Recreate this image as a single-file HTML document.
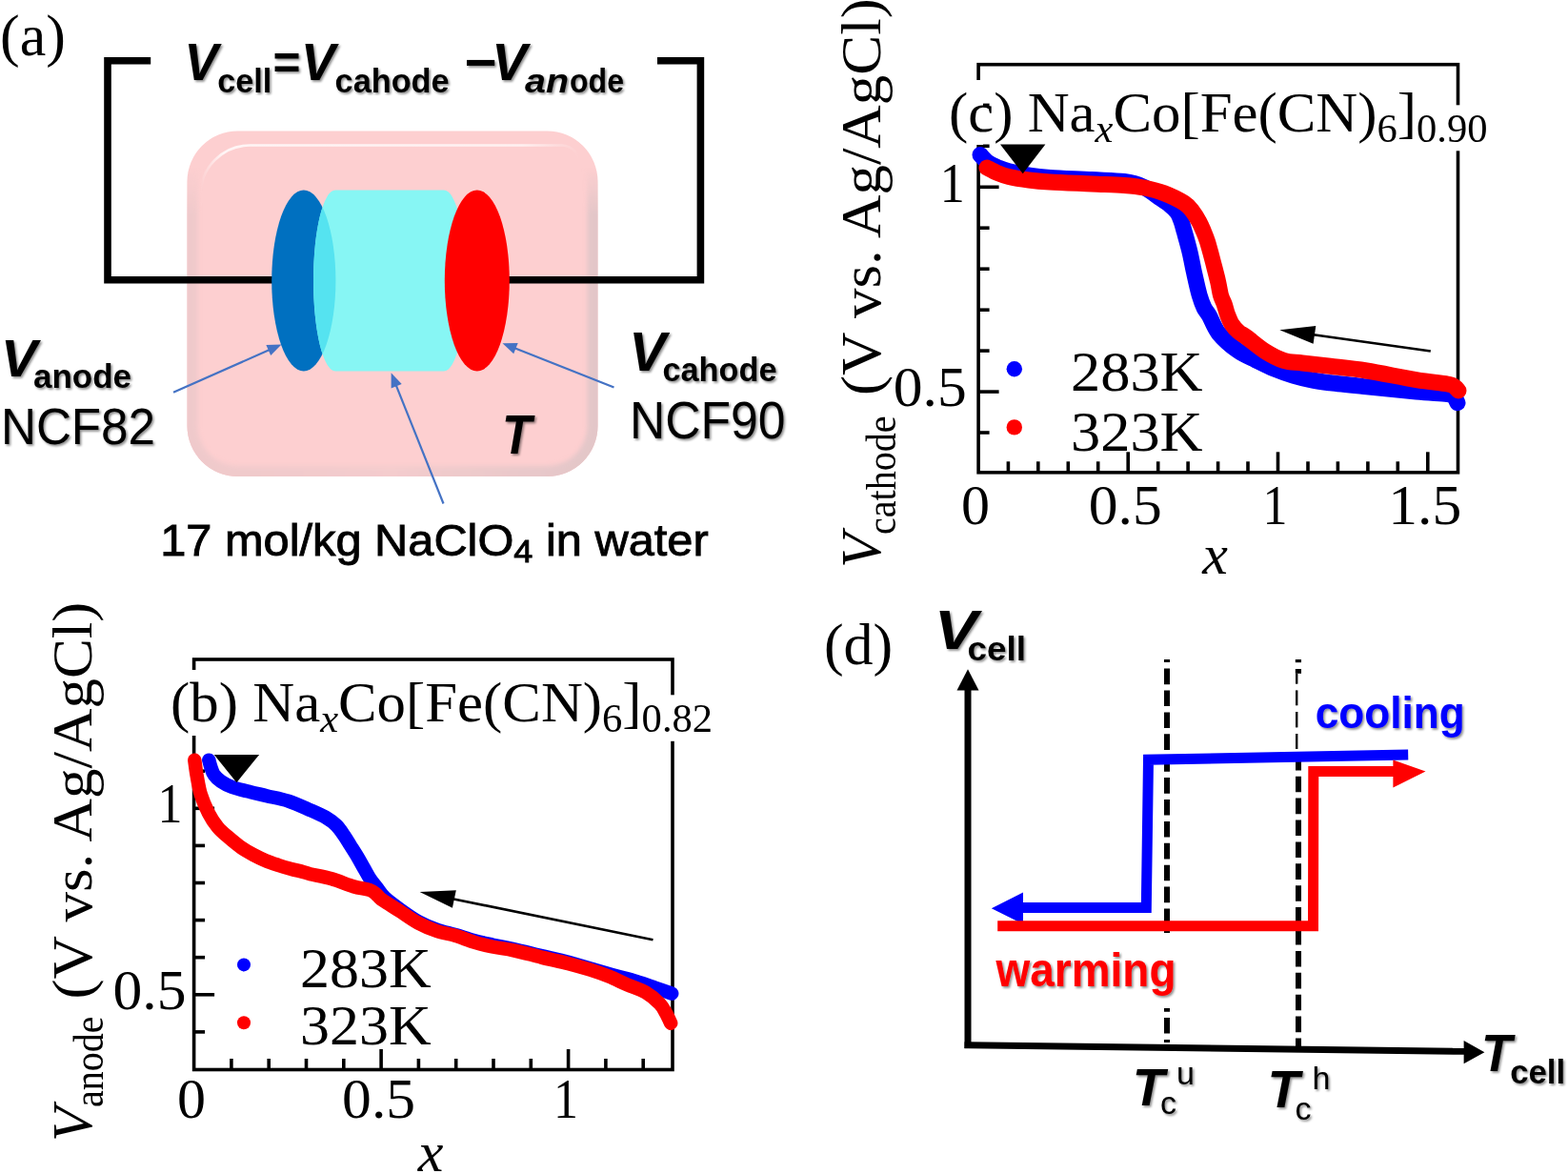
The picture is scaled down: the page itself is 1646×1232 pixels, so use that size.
<!DOCTYPE html><html><head><meta charset="utf-8"><title>Figure</title>
<style>html,body{margin:0;padding:0;background:#fff;}svg{display:block;}</style></head><body>
<svg width="1646" height="1232" viewBox="0 0 1646 1232">
<defs>
<filter id="sh" x="-10%" y="-10%" width="130%" height="140%">
<feDropShadow dx="1.6" dy="1.8" stdDeviation="1.0" flood-color="#000" flood-opacity="0.45"/>
</filter>
<linearGradient id="edgeR" x1="0" y1="0" x2="1" y2="0">
<stop offset="0" stop-color="#fdd0d1" stop-opacity="0"/><stop offset="1" stop-color="#e9c6c8" stop-opacity="1"/>
</linearGradient>
<linearGradient id="edgeB" x1="0" y1="0" x2="0" y2="1">
<stop offset="0" stop-color="#fdd0d1" stop-opacity="0"/><stop offset="1" stop-color="#eccacb" stop-opacity="1"/>
</linearGradient>
<marker id="ahb" viewBox="0 0 10 10" refX="9" refY="5" markerWidth="5" markerHeight="5" orient="auto-start-reverse" markerUnits="strokeWidth">
<path d="M0,0 L10,5 L0,10 z" fill="#4472c4"/></marker>
</defs>
<rect x="0" y="0" width="1646" height="1232" fill="#fff"/>
<text x="0.0" y="58.4" font-family="'Liberation Serif', 'Times New Roman', serif" font-size="62.0" font-weight="normal" font-style="normal" fill="#000" text-anchor="start" >(a)</text>
<defs><linearGradient id="ringH" x1="0" y1="0" x2="1" y2="0"><stop offset="0" stop-color="#efc9cb"/><stop offset="0.5" stop-color="#f4cccd"/><stop offset="1" stop-color="#e2c6c8"/></linearGradient><linearGradient id="ringV" x1="0" y1="0" x2="0" y2="1"><stop offset="0" stop-color="#fff" stop-opacity="0"/><stop offset="0.12" stop-color="#fff" stop-opacity="0"/><stop offset="0.25" stop-color="#fff" stop-opacity="1"/><stop offset="1" stop-color="#fff" stop-opacity="1"/></linearGradient><mask id="ringM" maskContentUnits="userSpaceOnUse"><rect x="190" y="130" width="445" height="380" fill="url(#ringV)"/></mask><clipPath id="boxClip"><path d="M249.5,137.5 H574.5 A53.0,53.0 0 0 1 627.5,190.5 V447.0 A53.0,53.0 0 0 1 574.5,500.0 H249.5 A53.0,53.0 0 0 1 196.5,447.0 V190.5 A53.0,53.0 0 0 1 249.5,137.5 Z"/></clipPath><filter id="bl2" x="-5%" y="-5%" width="110%" height="110%"><feGaussianBlur stdDeviation="2.2"/></filter><linearGradient id="hiG" x1="0" y1="0" x2="1" y2="0"><stop offset="0" stop-color="#fff" stop-opacity="0.0"/><stop offset="0.06" stop-color="#fff" stop-opacity="0.8"/><stop offset="0.85" stop-color="#fff" stop-opacity="0.7"/><stop offset="1" stop-color="#fff" stop-opacity="0"/></linearGradient></defs>
<path d="M249.5,137.5 H574.5 A53.0,53.0 0 0 1 627.5,190.5 V447.0 A53.0,53.0 0 0 1 574.5,500.0 H249.5 A53.0,53.0 0 0 1 196.5,447.0 V190.5 A53.0,53.0 0 0 1 249.5,137.5 Z" fill="#fdcfd0"/>
<g clip-path="url(#boxClip)"><g mask="url(#ringM)"><path d="M249.5,131.5 H574.5 A59.0,59.0 0 0 1 633.5,190.5 V447.0 A59.0,59.0 0 0 1 574.5,506.0 H249.5 A59.0,59.0 0 0 1 190.5,447.0 V190.5 A59.0,59.0 0 0 1 249.5,131.5 Z M249.5,148.5 H574.5 A42.0,42.0 0 0 1 616.5,190.5 V447.0 A42.0,42.0 0 0 1 574.5,489.0 H249.5 A42.0,42.0 0 0 1 207.5,447.0 V190.5 A42.0,42.0 0 0 1 249.5,148.5 Z" fill-rule="evenodd" fill="url(#ringH)" filter="url(#bl2)"/></g></g>
<path d="M210.5,215 V205 A52,52 0 0 1 262.5,152.5 H590 A20,20 0 0 1 608,166" fill="none" stroke="url(#hiG)" stroke-width="2.6"/>
<path d="M158.2,63.7 H113 V293.8 H290" fill="none" stroke="#000" stroke-width="7.6"/>
<path d="M690,63.7 H735.4 V293.8 H530" fill="none" stroke="#000" stroke-width="7.6"/>
<ellipse cx="318.8" cy="294.5" rx="33.6" ry="95" fill="#0070c0"/>
<defs><clipPath id="cylClip"><path d="M352,199.5 H466 A23,95 0 0 1 466,389.5 H352 A23,95 0 0 1 352,199.5 Z"/></clipPath></defs>
<path d="M352,199.5 H466 A23,95 0 0 1 466,389.5 H352 A23,95 0 0 1 352,199.5 Z" fill="#87f6f4"/>
<ellipse cx="318.8" cy="294.5" rx="33.6" ry="95" fill="#55e3f0" clip-path="url(#cylClip)"/>
<ellipse cx="500.8" cy="294.5" rx="34" ry="95" fill="#ff0000"/>
<line x1="182.0" y1="411.8" x2="283.6" y2="366.8" stroke="#4472c4" stroke-width="2.2"/>
<path d="M295.5,361.5 L284.2,373.1 L279.4,362.1 Z" fill="#4472c4"/>
<line x1="465.5" y1="528.5" x2="415.4" y2="403.3" stroke="#4472c4" stroke-width="2.2"/>
<path d="M410.6,391.2 L421.7,402.9 L410.6,407.4 Z" fill="#4472c4"/>
<line x1="644.5" y1="406.5" x2="539.6" y2="365.0" stroke="#4472c4" stroke-width="2.2"/>
<path d="M527.5,360.2 L543.7,360.1 L539.2,371.3 Z" fill="#4472c4"/>
<g filter="url(#sh)">
<text x="193.5" y="84.3" font-family="'Liberation Sans', Arial, sans-serif" font-size="55.0" font-weight="bold" font-style="italic" fill="#000" text-anchor="start" textLength="35.5" lengthAdjust="spacingAndGlyphs" >V</text>
<text x="228.3" y="96.7" font-family="'Liberation Sans', Arial, sans-serif" font-size="34.5" font-weight="bold" font-style="normal" fill="#000" text-anchor="start" textLength="57.0" lengthAdjust="spacingAndGlyphs" >cell</text>
<text x="286.5" y="83.2" font-family="'Liberation Sans', Arial, sans-serif" font-size="50.0" font-weight="bold" font-style="normal" fill="#000" text-anchor="start" textLength="29.0" lengthAdjust="spacingAndGlyphs" >=</text>
<text x="316.0" y="84.3" font-family="'Liberation Sans', Arial, sans-serif" font-size="55.0" font-weight="bold" font-style="italic" fill="#000" text-anchor="start" textLength="36.0" lengthAdjust="spacingAndGlyphs" >V</text>
<text x="351.6" y="96.7" font-family="'Liberation Sans', Arial, sans-serif" font-size="34.5" font-weight="bold" font-style="normal" fill="#000" text-anchor="start" textLength="120.0" lengthAdjust="spacingAndGlyphs" >cahode</text>
<text x="487.5" y="84.3" font-family="'Liberation Sans', Arial, sans-serif" font-size="55.0" font-weight="bold" font-style="normal" fill="#000" text-anchor="start" textLength="34.0" lengthAdjust="spacingAndGlyphs" >−</text>
<text x="516.2" y="84.3" font-family="'Liberation Sans', Arial, sans-serif" font-size="55.0" font-weight="bold" font-style="italic" fill="#000" text-anchor="start" textLength="37.0" lengthAdjust="spacingAndGlyphs" >V</text>
<text x="551.0" y="96.7" font-family="'Liberation Sans', Arial, sans-serif" font-size="34.5" font-weight="bold" font-style="italic" fill="#000" text-anchor="start" textLength="46.0" lengthAdjust="spacingAndGlyphs" >an</text>
<text x="598.0" y="96.7" font-family="'Liberation Sans', Arial, sans-serif" font-size="34.5" font-weight="bold" font-style="normal" fill="#000" text-anchor="start" textLength="57.0" lengthAdjust="spacingAndGlyphs" >ode</text>
<text x="1.0" y="394.7" font-family="'Liberation Sans', Arial, sans-serif" font-size="56.0" font-weight="bold" font-style="italic" fill="#000" text-anchor="start" textLength="38.0" lengthAdjust="spacingAndGlyphs" >V</text>
<text x="35.0" y="407.1" font-family="'Liberation Sans', Arial, sans-serif" font-size="34.5" font-weight="bold" font-style="normal" fill="#000" text-anchor="start" textLength="103.0" lengthAdjust="spacingAndGlyphs" >anode</text>
<text x="1.0" y="465.8" font-family="'Liberation Sans', Arial, sans-serif" font-size="54.5" font-weight="normal" font-style="normal" fill="#000" text-anchor="start" textLength="162.0" lengthAdjust="spacingAndGlyphs" >NCF82</text>
<text x="660.3" y="389.2" font-family="'Liberation Sans', Arial, sans-serif" font-size="57.0" font-weight="bold" font-style="italic" fill="#000" text-anchor="start" textLength="39.0" lengthAdjust="spacingAndGlyphs" >V</text>
<text x="695.5" y="399.5" font-family="'Liberation Sans', Arial, sans-serif" font-size="34.5" font-weight="bold" font-style="normal" fill="#000" text-anchor="start" textLength="120.0" lengthAdjust="spacingAndGlyphs" >cahode</text>
<text x="661.0" y="460.3" font-family="'Liberation Sans', Arial, sans-serif" font-size="55.0" font-weight="normal" font-style="normal" fill="#000" text-anchor="start" textLength="163.5" lengthAdjust="spacingAndGlyphs" >NCF90</text>
<text x="527.0" y="475.6" font-family="'Liberation Sans', Arial, sans-serif" font-size="56.5" font-weight="bold" font-style="italic" fill="#000" text-anchor="start" textLength="31.0" lengthAdjust="spacingAndGlyphs" >T</text>
</g>
<text x="168.2" y="583.4" font-family="'Liberation Sans', 'Noto Sans CJK JP', sans-serif" font-size="46" fill="#000" stroke="#000" stroke-width="0.9" textLength="575.5" lengthAdjust="spacingAndGlyphs">17 mol/kg NaClO<tspan font-size="34" dy="7">4</tspan><tspan dy="-7"> in water</tspan></text>
<rect x="1027.1" y="67.7" width="503.4" height="428.1" fill="none" stroke="#000" stroke-width="3.6"/>
<line x1="1058.4" y1="495.8" x2="1058.4" y2="484.3" stroke="#000" stroke-width="3.6"/>
<line x1="1089.8" y1="495.8" x2="1089.8" y2="484.3" stroke="#000" stroke-width="3.6"/>
<line x1="1121.3" y1="495.8" x2="1121.3" y2="484.3" stroke="#000" stroke-width="3.6"/>
<line x1="1152.7" y1="495.8" x2="1152.7" y2="484.3" stroke="#000" stroke-width="3.6"/>
<line x1="1184.2" y1="495.8" x2="1184.2" y2="474.3" stroke="#000" stroke-width="3.6"/>
<line x1="1215.7" y1="495.8" x2="1215.7" y2="484.3" stroke="#000" stroke-width="3.6"/>
<line x1="1247.1" y1="495.8" x2="1247.1" y2="484.3" stroke="#000" stroke-width="3.6"/>
<line x1="1278.6" y1="495.8" x2="1278.6" y2="484.3" stroke="#000" stroke-width="3.6"/>
<line x1="1310.0" y1="495.8" x2="1310.0" y2="484.3" stroke="#000" stroke-width="3.6"/>
<line x1="1341.5" y1="495.8" x2="1341.5" y2="474.3" stroke="#000" stroke-width="3.6"/>
<line x1="1373.0" y1="495.8" x2="1373.0" y2="484.3" stroke="#000" stroke-width="3.6"/>
<line x1="1404.4" y1="495.8" x2="1404.4" y2="484.3" stroke="#000" stroke-width="3.6"/>
<line x1="1435.9" y1="495.8" x2="1435.9" y2="484.3" stroke="#000" stroke-width="3.6"/>
<line x1="1467.3" y1="495.8" x2="1467.3" y2="484.3" stroke="#000" stroke-width="3.6"/>
<line x1="1498.8" y1="495.8" x2="1498.8" y2="474.3" stroke="#000" stroke-width="3.6"/>
<line x1="1027.1" y1="454.0" x2="1038.6" y2="454.0" stroke="#000" stroke-width="3.6"/>
<line x1="1027.1" y1="411.1" x2="1048.6" y2="411.1" stroke="#000" stroke-width="3.6"/>
<line x1="1027.1" y1="368.1" x2="1038.6" y2="368.1" stroke="#000" stroke-width="3.6"/>
<line x1="1027.1" y1="325.2" x2="1038.6" y2="325.2" stroke="#000" stroke-width="3.6"/>
<line x1="1027.1" y1="282.2" x2="1038.6" y2="282.2" stroke="#000" stroke-width="3.6"/>
<line x1="1027.1" y1="239.2" x2="1038.6" y2="239.2" stroke="#000" stroke-width="3.6"/>
<line x1="1027.1" y1="196.3" x2="1048.6" y2="196.3" stroke="#000" stroke-width="3.6"/>
<line x1="1027.1" y1="153.3" x2="1038.6" y2="153.3" stroke="#000" stroke-width="3.6"/>
<line x1="1027.1" y1="110.4" x2="1038.6" y2="110.4" stroke="#000" stroke-width="3.6"/>
<path d="M1029.0,162.4 C1030.3,163.8 1033.8,168.2 1037.0,170.5 C1040.2,172.8 1044.3,174.4 1048.0,176.0 C1051.7,177.6 1053.5,178.4 1059.0,179.8 C1064.5,181.2 1073.8,183.1 1081.0,184.2 C1088.2,185.3 1091.7,185.7 1102.5,186.4 C1113.3,187.1 1133.1,187.9 1146.0,188.6 C1158.9,189.3 1171.0,189.3 1180.0,190.5 C1189.0,191.7 1194.2,193.4 1200.0,196.0 C1205.8,198.6 1210.3,202.8 1215.0,206.0 C1219.7,209.2 1224.5,212.2 1228.0,215.0 C1231.5,217.8 1234.0,220.2 1236.0,223.0 C1238.0,225.8 1238.8,228.6 1240.0,232.0 C1241.2,235.4 1241.8,237.9 1243.3,243.3 C1244.8,248.7 1247.3,257.4 1249.0,264.4 C1250.7,271.4 1251.7,277.9 1253.4,285.5 C1255.1,293.1 1257.4,303.8 1259.2,310.0 C1261.0,316.2 1262.3,319.5 1264.0,323.0 C1265.7,326.5 1266.7,326.5 1269.3,331.0 C1271.9,335.5 1274.5,343.9 1279.5,350.0 C1284.5,356.1 1292.5,363.0 1299.0,367.7 C1305.5,372.4 1312.0,374.8 1318.5,378.0 C1325.0,381.2 1331.5,384.5 1338.0,387.2 C1344.5,389.9 1350.9,392.1 1357.4,394.0 C1363.9,395.9 1370.5,397.6 1377.0,398.9 C1383.5,400.2 1386.8,400.6 1396.4,401.8 C1406.0,403.0 1419.5,404.3 1434.5,405.8 C1449.5,407.3 1472.5,409.7 1486.7,411.0 C1500.9,412.3 1512.9,412.7 1519.4,413.5 C1526.0,414.3 1524.2,414.5 1526.0,416.0 C1527.8,417.5 1529.3,421.6 1530.0,422.7" fill="none" stroke="#0000ff" stroke-width="17.0" stroke-linejoin="round" stroke-linecap="round"/>
<circle cx="1028.8" cy="162.4" r="7.8" fill="#0000ff"/>
<circle cx="1530.0" cy="422.2" r="7.0" fill="#0000ff"/>
<path d="M1036.0,176.0 C1037.8,176.9 1043.2,179.9 1047.0,181.5 C1050.8,183.1 1053.5,184.2 1059.0,185.5 C1064.5,186.8 1072.8,188.1 1080.0,189.0 C1087.2,189.9 1091.0,190.3 1102.0,191.0 C1113.0,191.7 1133.0,192.4 1146.0,193.0 C1159.0,193.6 1170.8,193.8 1180.0,194.5 C1189.2,195.2 1194.0,195.6 1201.0,197.0 C1208.0,198.4 1215.0,200.0 1222.0,202.7 C1229.0,205.4 1238.0,209.8 1243.0,213.0 C1248.0,216.2 1249.4,218.7 1252.0,222.0 C1254.6,225.3 1256.9,229.3 1258.8,232.8 C1260.7,236.3 1262.0,239.5 1263.5,243.0 C1265.0,246.5 1265.9,248.6 1267.6,253.9 C1269.2,259.2 1271.6,268.0 1273.4,275.0 C1275.2,282.0 1277.4,290.2 1278.7,296.0 C1280.0,301.8 1280.4,306.1 1281.5,310.0 C1282.6,313.9 1284.1,316.2 1285.3,319.5 C1286.5,322.8 1287.2,326.6 1288.5,330.0 C1289.8,333.4 1291.1,337.0 1293.0,340.0 C1294.9,343.0 1297.4,345.7 1300.0,348.0 C1302.6,350.3 1304.0,350.6 1308.7,354.0 C1313.4,357.4 1321.7,364.6 1328.2,368.7 C1334.7,372.8 1341.2,376.3 1347.7,378.4 C1354.2,380.4 1359.1,380.0 1367.2,381.0 C1375.3,382.0 1385.2,383.0 1396.4,384.3 C1407.6,385.6 1419.5,386.6 1434.5,389.0 C1449.5,391.4 1472.5,396.3 1486.7,398.6 C1500.9,400.9 1512.7,401.8 1519.4,403.0 C1526.1,404.2 1525.1,404.8 1527.0,406.0 C1528.9,407.2 1530.3,409.3 1531.0,410.0" fill="none" stroke="#ff0000" stroke-width="17.0" stroke-linejoin="round" stroke-linecap="round"/>
<rect x="995.0" y="84.0" width="25.0" height="68.0" fill="#fff"/>
<rect x="1020.0" y="84.0" width="12.0" height="68.0" fill="#fff"/>
<rect x="1520.0" y="110.3" width="20.0" height="48.0" fill="#fff"/>
<text x="1023.9" y="549.5" font-family="'Liberation Serif', 'Times New Roman', serif" font-size="60.0" font-weight="normal" font-style="normal" fill="#000" text-anchor="middle" >0</text>
<text x="1181.2" y="549.5" font-family="'Liberation Serif', 'Times New Roman', serif" font-size="60.0" font-weight="normal" font-style="normal" fill="#000" text-anchor="middle" textLength="77.0" lengthAdjust="spacingAndGlyphs" >0.5</text>
<text x="1338.5" y="549.5" font-family="'Liberation Serif', 'Times New Roman', serif" font-size="60.0" font-weight="normal" font-style="normal" fill="#000" text-anchor="middle" textLength="26.0" lengthAdjust="spacingAndGlyphs" >1</text>
<text x="1495.8" y="549.5" font-family="'Liberation Serif', 'Times New Roman', serif" font-size="60.0" font-weight="normal" font-style="normal" fill="#000" text-anchor="middle" textLength="77.0" lengthAdjust="spacingAndGlyphs" >1.5</text>
<text x="1012.8" y="211.7" font-family="'Liberation Serif', 'Times New Roman', serif" font-size="60.0" font-weight="normal" font-style="normal" fill="#000" text-anchor="end" textLength="26.0" lengthAdjust="spacingAndGlyphs" >1</text>
<text x="1014.8" y="426.4" font-family="'Liberation Serif', 'Times New Roman', serif" font-size="60.0" font-weight="normal" font-style="normal" fill="#000" text-anchor="end" textLength="77.0" lengthAdjust="spacingAndGlyphs" >0.5</text>
<text x="996.0" y="137.5" font-family="'Liberation Serif', 'Times New Roman', serif" font-size="60" textLength="565.5" lengthAdjust="spacingAndGlyphs">(c) Na<tspan font-size="42" font-style="italic" dy="11">x</tspan><tspan dy="-11">Co[Fe(CN)</tspan><tspan font-size="42" dy="11">6</tspan><tspan dy="-11">]</tspan><tspan font-size="42" dy="11">0.90</tspan></text>
<path d="M1050.0,151.5 L1097.4,151.5 L1073.7,182.3 Z" fill="#000"/>
<line x1="1501.8" y1="368.5" x2="1377.0" y2="351.0" stroke="#000" stroke-width="2.6"/>
<path d="M1343.3,346.3 L1381.3,342.0 L1378.6,360.8 Z" fill="#000"/>
<circle cx="1064.8" cy="387.2" r="8.2" fill="#0000ff"/>
<text x="1124.0" y="409.8" font-family="'Liberation Serif', 'Times New Roman', serif" font-size="60.0" font-weight="normal" font-style="normal" fill="#000" text-anchor="start" textLength="138.7" lengthAdjust="spacingAndGlyphs" >283K</text>
<circle cx="1064.8" cy="448.4" r="8.2" fill="#ff0000"/>
<text x="1124.0" y="472.5" font-family="'Liberation Serif', 'Times New Roman', serif" font-size="60.0" font-weight="normal" font-style="normal" fill="#000" text-anchor="start" textLength="138.7" lengthAdjust="spacingAndGlyphs" >323K</text>
<text x="1275.5" y="601.5" font-family="'Liberation Serif', 'Times New Roman', serif" font-size="60.0" font-weight="normal" font-style="italic" fill="#000" text-anchor="middle" >x</text>
<text transform="translate(923.8,596.0) rotate(-90)" x="0" y="0" font-family="'Liberation Serif', 'Times New Roman', serif" font-size="60" font-style="italic">V</text><text transform="translate(939.8,561.0) rotate(-90)" x="0" y="0" font-family="'Liberation Serif', 'Times New Roman', serif" font-size="45" textLength="124.6" lengthAdjust="spacingAndGlyphs">cathode</text><text transform="translate(923.8,415.0) rotate(-90)" x="0" y="0" font-family="'Liberation Serif', 'Times New Roman', serif" font-size="60" textLength="416.7" lengthAdjust="spacingAndGlyphs">(V vs. Ag/AgCl)</text>
<rect x="203.6" y="692.0" width="502.4" height="430.5" fill="none" stroke="#000" stroke-width="3.6"/>
<line x1="242.9" y1="1122.5" x2="242.9" y2="1111.0" stroke="#000" stroke-width="3.6"/>
<line x1="282.2" y1="1122.5" x2="282.2" y2="1111.0" stroke="#000" stroke-width="3.6"/>
<line x1="321.5" y1="1122.5" x2="321.5" y2="1111.0" stroke="#000" stroke-width="3.6"/>
<line x1="360.8" y1="1122.5" x2="360.8" y2="1111.0" stroke="#000" stroke-width="3.6"/>
<line x1="400.1" y1="1122.5" x2="400.1" y2="1101.0" stroke="#000" stroke-width="3.6"/>
<line x1="439.4" y1="1122.5" x2="439.4" y2="1111.0" stroke="#000" stroke-width="3.6"/>
<line x1="478.7" y1="1122.5" x2="478.7" y2="1111.0" stroke="#000" stroke-width="3.6"/>
<line x1="518.0" y1="1122.5" x2="518.0" y2="1111.0" stroke="#000" stroke-width="3.6"/>
<line x1="557.3" y1="1122.5" x2="557.3" y2="1111.0" stroke="#000" stroke-width="3.6"/>
<line x1="596.6" y1="1122.5" x2="596.6" y2="1101.0" stroke="#000" stroke-width="3.6"/>
<line x1="635.9" y1="1122.5" x2="635.9" y2="1111.0" stroke="#000" stroke-width="3.6"/>
<line x1="675.2" y1="1122.5" x2="675.2" y2="1111.0" stroke="#000" stroke-width="3.6"/>
<line x1="203.6" y1="1082.9" x2="215.1" y2="1082.9" stroke="#000" stroke-width="3.6"/>
<line x1="203.6" y1="1043.8" x2="225.1" y2="1043.8" stroke="#000" stroke-width="3.6"/>
<line x1="203.6" y1="1004.7" x2="215.1" y2="1004.7" stroke="#000" stroke-width="3.6"/>
<line x1="203.6" y1="965.6" x2="215.1" y2="965.6" stroke="#000" stroke-width="3.6"/>
<line x1="203.6" y1="926.5" x2="215.1" y2="926.5" stroke="#000" stroke-width="3.6"/>
<line x1="203.6" y1="887.4" x2="215.1" y2="887.4" stroke="#000" stroke-width="3.6"/>
<line x1="203.6" y1="848.3" x2="225.1" y2="848.3" stroke="#000" stroke-width="3.6"/>
<line x1="203.6" y1="809.2" x2="215.1" y2="809.2" stroke="#000" stroke-width="3.6"/>
<line x1="203.6" y1="770.1" x2="215.1" y2="770.1" stroke="#000" stroke-width="3.6"/>
<line x1="203.6" y1="731.0" x2="215.1" y2="731.0" stroke="#000" stroke-width="3.6"/>
<path d="M219.3,797.7 C219.7,799.0 220.6,803.0 221.5,805.5 C222.4,808.0 222.9,810.6 224.7,813.0 C226.4,815.4 228.8,817.8 232.0,820.0 C235.2,822.2 238.5,824.1 243.7,826.0 C248.9,827.9 257.1,829.7 263.2,831.2 C269.2,832.7 273.4,833.6 280.0,835.2 C286.6,836.8 295.1,838.1 302.7,840.6 C310.3,843.1 318.9,847.2 325.5,850.1 C332.1,853.0 337.9,855.5 342.5,858.1 C347.1,860.8 349.9,862.9 353.0,866.0 C356.1,869.1 358.8,873.2 361.3,876.8 C363.8,880.4 365.6,883.7 368.0,887.5 C370.4,891.3 373.2,895.6 375.5,899.5 C377.8,903.4 379.8,907.2 382.0,911.0 C384.2,914.8 386.2,918.8 388.5,922.3 C390.8,925.8 393.4,928.7 396.0,932.0 C398.6,935.3 400.1,938.3 404.0,942.0 C407.9,945.7 413.7,949.8 419.5,954.0 C425.3,958.2 432.5,963.4 439.0,967.0 C445.5,970.6 451.9,973.2 458.4,975.5 C464.9,977.8 471.4,979.1 477.9,981.0 C484.4,982.9 490.9,985.2 497.4,987.0 C503.9,988.8 509.8,990.0 516.8,991.5 C523.8,993.0 530.6,994.1 539.2,996.0 C547.8,997.9 558.7,1000.7 568.4,1003.0 C578.1,1005.3 587.9,1007.4 597.6,1010.0 C607.3,1012.6 618.4,1016.1 626.8,1018.5 C635.2,1020.9 641.1,1022.6 648.0,1024.5 C654.9,1026.4 661.4,1028.0 668.0,1030.0 C674.6,1032.0 681.4,1034.4 687.6,1036.5 C693.8,1038.6 702.3,1041.6 705.2,1042.6" fill="none" stroke="#0000ff" stroke-width="14.5" stroke-linejoin="round" stroke-linecap="round"/>
<path d="M204.3,797.7 C204.7,800.5 205.6,808.2 206.7,814.2 C207.8,820.2 208.8,827.2 210.8,833.7 C212.8,840.2 216.0,847.5 218.9,853.2 C221.8,858.9 225.0,863.7 228.5,868.0 C232.0,872.3 235.9,875.3 240.0,878.8 C244.1,882.3 248.7,886.2 253.0,889.2 C257.3,892.2 261.7,894.7 266.0,897.0 C270.3,899.3 274.7,901.4 279.0,903.2 C283.3,905.0 287.7,906.4 292.0,907.8 C296.3,909.2 300.7,910.5 305.0,911.7 C309.3,912.9 314.6,914.0 318.0,914.9 C321.4,915.8 320.5,916.0 325.5,917.2 C330.5,918.4 340.6,920.1 348.2,922.3 C355.8,924.5 364.3,928.2 370.9,930.2 C377.5,932.2 384.0,932.6 388.0,934.0 C392.0,935.4 393.0,936.9 395.0,938.5 C397.0,940.1 397.5,941.6 400.0,943.5 C402.5,945.4 406.8,947.9 410.0,950.0 C413.2,952.1 414.7,952.9 419.5,956.0 C424.3,959.1 432.5,965.2 439.0,968.7 C445.5,972.2 451.9,974.8 458.4,977.0 C464.9,979.2 471.4,979.9 477.9,981.8 C484.4,983.7 490.9,986.6 497.4,988.6 C503.9,990.6 509.8,992.0 516.8,993.5 C523.8,995.0 530.6,995.4 539.2,997.3 C547.8,999.1 558.7,1002.2 568.4,1004.6 C578.1,1007.0 589.1,1009.2 597.6,1011.4 C606.1,1013.6 612.6,1015.5 619.5,1017.7 C626.4,1019.9 632.5,1022.0 639.0,1024.6 C645.5,1027.2 651.9,1030.5 658.4,1033.3 C664.9,1036.1 672.2,1038.3 677.9,1041.6 C683.6,1044.9 689.0,1049.7 692.5,1053.3 C696.0,1056.9 697.0,1059.6 699.0,1063.0 C701.0,1066.4 703.3,1072.0 704.2,1073.8" fill="none" stroke="#ff0000" stroke-width="14.5" stroke-linejoin="round" stroke-linecap="round"/>
<rect x="180.0" y="703.0" width="40.0" height="69.0" fill="#fff"/>
<rect x="696.0" y="729.3" width="20.0" height="48.5" fill="#fff"/>
<text x="201.1" y="1173.0" font-family="'Liberation Serif', 'Times New Roman', serif" font-size="60.0" font-weight="normal" font-style="normal" fill="#000" text-anchor="middle" >0</text>
<text x="397.6" y="1173.0" font-family="'Liberation Serif', 'Times New Roman', serif" font-size="60.0" font-weight="normal" font-style="normal" fill="#000" text-anchor="middle" textLength="77.0" lengthAdjust="spacingAndGlyphs" >0.5</text>
<text x="594.1" y="1173.0" font-family="'Liberation Serif', 'Times New Roman', serif" font-size="60.0" font-weight="normal" font-style="normal" fill="#000" text-anchor="middle" textLength="26.0" lengthAdjust="spacingAndGlyphs" >1</text>
<text x="191.5" y="863.1" font-family="'Liberation Serif', 'Times New Roman', serif" font-size="60.0" font-weight="normal" font-style="normal" fill="#000" text-anchor="end" textLength="26.0" lengthAdjust="spacingAndGlyphs" >1</text>
<text x="195.5" y="1058.6" font-family="'Liberation Serif', 'Times New Roman', serif" font-size="60.0" font-weight="normal" font-style="normal" fill="#000" text-anchor="end" textLength="77.0" lengthAdjust="spacingAndGlyphs" >0.5</text>
<text x="179.1" y="756.5" font-family="'Liberation Serif', 'Times New Roman', serif" font-size="60" textLength="569.0" lengthAdjust="spacingAndGlyphs">(b) Na<tspan font-size="42" font-style="italic" dy="11">x</tspan><tspan dy="-11">Co[Fe(CN)</tspan><tspan font-size="42" dy="11">6</tspan><tspan dy="-11">]</tspan><tspan font-size="42" dy="11">0.82</tspan></text>
<path d="M224.8,792.0 L272.1,792.0 L248.4,821.2 Z" fill="#000"/>
<line x1="685.5" y1="986.3" x2="473.9" y2="942.9" stroke="#000" stroke-width="2.6"/>
<path d="M440.6,936.1 L478.8,934.2 L474.9,952.8 Z" fill="#000"/>
<circle cx="256.0" cy="1012.4" r="7.0" fill="#0000ff"/>
<text x="315.0" y="1035.5" font-family="'Liberation Serif', 'Times New Roman', serif" font-size="60.0" font-weight="normal" font-style="normal" fill="#000" text-anchor="start" textLength="137.7" lengthAdjust="spacingAndGlyphs" >283K</text>
<circle cx="256.0" cy="1073.3" r="7.0" fill="#ff0000"/>
<text x="315.0" y="1096.2" font-family="'Liberation Serif', 'Times New Roman', serif" font-size="60.0" font-weight="normal" font-style="normal" fill="#000" text-anchor="start" textLength="137.7" lengthAdjust="spacingAndGlyphs" >323K</text>
<text x="452.0" y="1228.6" font-family="'Liberation Serif', 'Times New Roman', serif" font-size="60.0" font-weight="normal" font-style="italic" fill="#000" text-anchor="middle" >x</text>
<text transform="translate(95.8,1198.0) rotate(-90)" x="0" y="0" font-family="'Liberation Serif', 'Times New Roman', serif" font-size="60" font-style="italic">V</text><text transform="translate(108.4,1162.0) rotate(-90)" x="0" y="0" font-family="'Liberation Serif', 'Times New Roman', serif" font-size="45" textLength="95.4" lengthAdjust="spacingAndGlyphs">anode</text><text transform="translate(95.8,1048.4) rotate(-90)" x="0" y="0" font-family="'Liberation Serif', 'Times New Roman', serif" font-size="60" textLength="416.7" lengthAdjust="spacingAndGlyphs">(V vs. Ag/AgCl)</text>
<text x="864.9" y="696.6" font-family="'Liberation Serif', 'Times New Roman', serif" font-size="62.0" font-weight="normal" font-style="normal" fill="#000" text-anchor="start" >(d)</text>
<line x1="1225" y1="692" x2="1225" y2="1098" stroke="#000" stroke-width="6" stroke-dasharray="3 6.6 16.6 6.3 16.6 6.3 16.6 6.3 16.6 6.3 16.6 6.3 16.6 6.3 16.6 6.3 16.6 6.3 16.6 6.3 16.6 6.3 16.6 6.3 16.6 6.3 16.6 6.3 16.6 6.3 16.6 6.3 16.6 6.3 16.6 6.3"/>
<rect x="1359.8" y="692" width="6.2" height="3.2" fill="#000"/>
<rect x="1359.8" y="702" width="6.2" height="4.8" fill="#000"/>
<rect x="1360" y="706.8" width="2.4" height="10.9" fill="#000"/>
<rect x="1360" y="724.4" width="2.4" height="15.9" fill="#000"/>
<rect x="1360" y="747.0" width="2.4" height="16.4" fill="#000"/>
<rect x="1360" y="770.0" width="2.4" height="16.0" fill="#000"/>
<line x1="1363" y1="791.8" x2="1363" y2="1100" stroke="#000" stroke-width="6" stroke-dasharray="16.6 6.3"/>
<rect x="1040" y="979" width="195" height="79" fill="#fff"/>
<line x1="1016" y1="1100" x2="1016" y2="722" stroke="#000" stroke-width="7"/>
<path d="M1004.5,724.5 L1027.5,724.5 L1016,702.2 Z" fill="#000"/>
<path d="M1012.5,1096.8 L1538,1103.3" stroke="#000" stroke-width="7" fill="none"/>
<path d="M1536.6,1092 L1536.6,1116.3 L1558.4,1104.2 Z" fill="#000"/>
<path d="M1072,952.5 L1203.3,952.5 L1205.5,797.2 L1478.2,791.9" fill="none" stroke="#0000ff" stroke-width="11" stroke-linejoin="miter"/>
<path d="M1040.8,953.2 L1074,936.6 L1074,969.8 Z" fill="#0000ff"/>
<path d="M1047.2,971.7 L1378.5,971.7 L1378.8,809.5 L1463,809.5" fill="none" stroke="#ff0000" stroke-width="11" stroke-linejoin="miter"/>
<path d="M1462.4,797.4 L1462.4,826.6 L1496.5,809.5 Z" fill="#ff0000"/>
<g filter="url(#sh)">
<text x="980.8" y="681.2" font-family="'Liberation Sans', Arial, sans-serif" font-size="58.0" font-weight="bold" font-style="italic" fill="#000" text-anchor="start" textLength="45.5" lengthAdjust="spacingAndGlyphs" >V</text>
<text x="1015.5" y="693.1" font-family="'Liberation Sans', Arial, sans-serif" font-size="34.5" font-weight="bold" font-style="normal" fill="#000" text-anchor="start" textLength="61.5" lengthAdjust="spacingAndGlyphs" >cell</text>
<text x="1555.0" y="1123.6" font-family="'Liberation Sans', Arial, sans-serif" font-size="55.0" font-weight="bold" font-style="italic" fill="#000" text-anchor="start" textLength="32.0" lengthAdjust="spacingAndGlyphs" >T</text>
<text x="1585.2" y="1136.6" font-family="'Liberation Sans', Arial, sans-serif" font-size="34.5" font-weight="bold" font-style="normal" fill="#000" text-anchor="start" textLength="58.0" lengthAdjust="spacingAndGlyphs" >cell</text>
<text x="1380.8" y="763.6" font-family="'Liberation Sans', Arial, sans-serif" font-size="47.0" font-weight="bold" font-style="normal" fill="#0000ff" text-anchor="start" textLength="157.0" lengthAdjust="spacingAndGlyphs" >cooling</text>
<text x="1045.5" y="1034.8" font-family="'Liberation Sans', Arial, sans-serif" font-size="50.0" font-weight="bold" font-style="normal" fill="#ff0000" text-anchor="start" textLength="189.0" lengthAdjust="spacingAndGlyphs" >warming</text>
<text x="1188.7" y="1159.9" font-family="'Liberation Sans', Arial, sans-serif" font-size="55.0" font-weight="bold" font-style="italic" fill="#000" text-anchor="start" >T</text>
<text x="1218.0" y="1168.8" font-family="'Liberation Sans', Arial, sans-serif" font-size="34.0" font-weight="normal" font-style="normal" fill="#000" text-anchor="start" >c</text>
<text x="1234.9" y="1138.2" font-family="'Liberation Sans', Arial, sans-serif" font-size="34.0" font-weight="normal" font-style="normal" fill="#000" text-anchor="start" >u</text>
<text x="1330.4" y="1162.4" font-family="'Liberation Sans', Arial, sans-serif" font-size="55.0" font-weight="bold" font-style="italic" fill="#000" text-anchor="start" >T</text>
<text x="1359.6" y="1175.0" font-family="'Liberation Sans', Arial, sans-serif" font-size="34.0" font-weight="normal" font-style="normal" fill="#000" text-anchor="start" >c</text>
<text x="1377.6" y="1143.3" font-family="'Liberation Sans', Arial, sans-serif" font-size="34.0" font-weight="normal" font-style="normal" fill="#000" text-anchor="start" >h</text>
</g>
</svg></body></html>
